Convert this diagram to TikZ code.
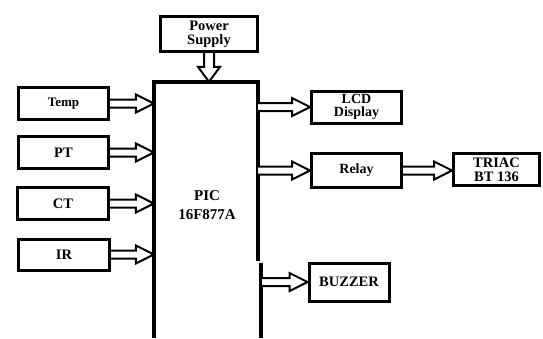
\documentclass[tikz,border=0pt]{standalone}
\usepackage{fontspec}
\setmainfont{Liberation Serif}
\usetikzlibrary{calc}
\tikzset{
  blk/.style={draw=black, line width=3pt, rectangle, inner sep=0pt, align=center,
    font=\fontsize{14.5}{14}\selectfont\bfseries},
  fat/.style={draw=black, line width=2pt, line join=miter, fill=white},
  picline/.style={draw=black, line width=3.5pt}
}
\newcommand\harrow[2]{\draw[fat] let \p1=(#1), \p2=(#2) in
  (\x1,\y1+4pt) -- (\x2-18pt,\y1+4pt) -- (\x2-18pt,\y1+9pt) -- (\x2,\y1)
  -- (\x2-18pt,\y1-9pt) -- (\x2-18pt,\y1-4pt) -- (\x1,\y1-4pt);}
\newcommand\varrow[2]{\draw[fat] let \p1=(#1), \p2=(#2) in
  (\x1-5pt,\y1) -- (\x1-5pt,\y2+15pt) -- (\x1-11pt,\y2+15pt) -- (\x1,\y2)
  -- (\x1+11pt,\y2+15pt) -- (\x1+5pt,\y2+15pt) -- (\x1+5pt,\y1);}
\begin{document}
\begin{tikzpicture}[x=1pt,y=-1pt]
\useasboundingbox (0,0) rectangle (543,338);
% PIC block (open at the bottom)
\node[inner sep=0pt, minimum width=104, minimum height=256] (pic) at (206,210) {};
\draw[picline] (154,338) -- (154,82) -- (258,82) -- (258,261);
\draw[picline] (261,263) -- (261,338);
\node[font=\fontsize{15}{19}\selectfont\bfseries, align=center] (pictext) at (207,205) {PIC\\16F877A};
% blocks
\node[blk, minimum width=97, minimum height=35] (power) at (209,34) {Power\\Supply};
\node[blk, minimum width=90, minimum height=32, font=\fontsize{13}{14}\selectfont\bfseries] (temp) at (63.5,103.5) {Temp};
\node[blk, minimum width=90, minimum height=32] (pt) at (63.5,152.5) {PT};
\node[blk, minimum width=91, minimum height=32] (ct) at (63,203.5) {CT};
\node[blk, minimum width=91, minimum height=31] (ir) at (64,254.5) {IR};
\node[blk, minimum width=90, minimum height=32, font=\fontsize{14}{13.5}\selectfont\bfseries] (lcd) at (356.5,107) {LCD\\Display};
\node[blk, minimum width=90, minimum height=34, font=\fontsize{14}{14}\selectfont\bfseries] (relay) at (356.5,170.5) {Relay};
\node[blk, minimum width=86, minimum height=32] (triac) at (496.5,169.5) {TRIAC\\BT 136};
\node[blk, minimum width=80, minimum height=38] (buzzer) at (349,282) {BUZZER};
% arrows
\varrow{power.south}{pic.north}
\harrow{temp.east}{temp.east -| pic.west}
\harrow{pt.east}{pt.east -| pic.west}
\harrow{ct.east}{ct.east -| pic.west}
\harrow{ir.east}{ir.east -| pic.west}
\harrow{lcd.west -| pic.east}{lcd.west}
\harrow{relay.west -| pic.east}{relay.west}
\harrow{relay.east}{triac.west}
\coordinate (bzstart) at ($(buzzer.west -| pic.east)+(4,0)$);
\harrow{bzstart}{buzzer.west}
\end{tikzpicture}
\end{document}
